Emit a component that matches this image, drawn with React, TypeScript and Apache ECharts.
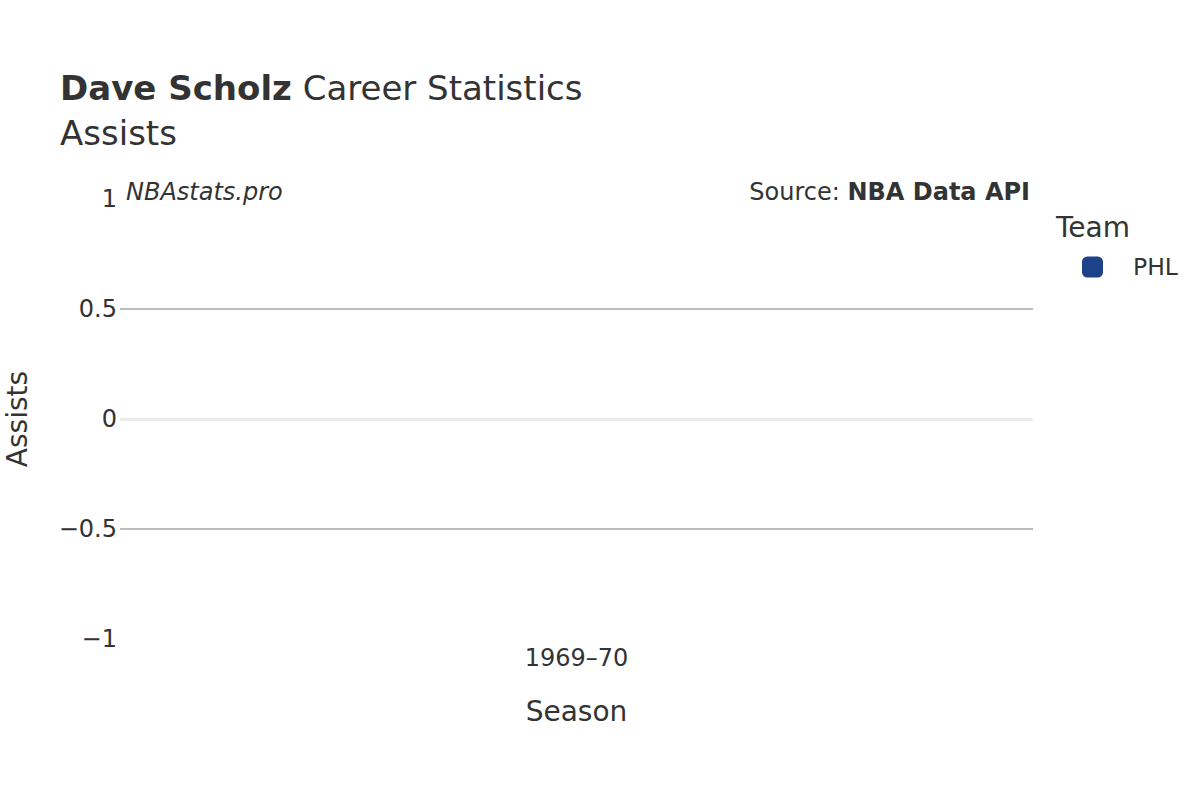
import React, { useEffect, useRef } from "react";
import * as echarts from "echarts";

const seasons = ["1969–70"];
const teams = ["PHL"];
const phlAssists = [0];
const yTicks = { min: -1, max: 1, interval: 0.5 };
const teamColors = { PHL: "#1d428a" };

const FONT = "DejaVu Sans";
const TXT = "#333333";

export default function App() {
  const ref = useRef<HTMLDivElement>(null);
  useEffect(() => {
    document.body.style.margin = "0";
    const chart = echarts.init(ref.current!, null, { renderer: "svg" });
    const option: any = {
      animation: false,
      backgroundColor: "#ffffff",
      textStyle: { fontFamily: FONT, color: TXT },
      title: {
        left: 55,
        top: 66,
        text: "{b|Dave Scholz} Career Statistics",
        textStyle: {
          fontFamily: FONT,
          fontSize: 34,
          fontWeight: "normal",
          color: TXT,
          lineHeight: 34,
          rich: {
            b: { fontFamily: FONT, fontSize: 34, fontWeight: "bold", color: TXT, lineHeight: 34 },
          },
        },
        subtext: "Assists",
        subtextStyle: { fontFamily: FONT, fontSize: 34, color: TXT, lineHeight: 34 },
        itemGap: 11,
      },
      legend: {
        data: teams,
        left: 1077,
        top: 250,
        orient: "vertical",
        icon: "roundRect",
        itemWidth: 21,
        itemHeight: 21,
        textStyle: { fontFamily: FONT, fontSize: 23.5, color: TXT, padding: [0, 0, 0, 25] },
      },
      graphic: [
        {
          type: "text",
          left: 1056,
          top: 213,
          style: { text: "Team", font: `28px '${FONT}'`, fill: TXT },
        },
        {
          type: "text",
          x: 126,
          y: 192,
          style: {
            text: "NBAstats.pro",
            font: `italic 24px '${FONT}'`,
            fill: TXT,
            verticalAlign: "middle",
            align: "left",
          },
        },
        {
          type: "text",
          x: 1030,
          y: 192,
          style: {
            text: "{n|Source: }{b|NBA Data API}",
            align: "right",
            verticalAlign: "middle",
            fill: TXT,
            rich: {
              n: { fontFamily: FONT, fontSize: 24, color: TXT },
              b: { fontFamily: FONT, fontSize: 24, fontWeight: "bold", color: TXT },
            },
          },
        },
      ],
      grid: {
        left: 120,
        right: 167,
        top: 199,
        bottom: 161,
        containLabel: false,
        outerBoundsMode: "none",
      },
      xAxis: {
        type: "category",
        data: seasons,
        axisLine: { show: false },
        axisTick: { show: false },
        axisLabel: { fontFamily: FONT, fontSize: 24, color: TXT, margin: 7 },
        name: "Season",
        nameLocation: "middle",
        nameGap: 58,
        nameTextStyle: { fontFamily: FONT, fontSize: 28, color: TXT },
      },
      yAxis: {
        type: "value",
        min: yTicks.min,
        max: yTicks.max,
        interval: yTicks.interval,
        axisLine: { show: false },
        axisTick: { show: false },
        axisLabel: {
          fontFamily: FONT,
          fontSize: 24,
          color: TXT,
          margin: 3,
          formatter: (v: number) => (v < 0 ? "\u2212" + Math.abs(v) : String(v)),
        },
        splitLine: {
          show: true,
          lineStyle: {
            width: 2,
            color: ["rgba(0,0,0,0)", "#bdbdbd", "rgba(0,0,0,0)", "#bdbdbd", "rgba(0,0,0,0)"],
          },
        },
        name: "Assists",
        nameLocation: "middle",
        nameGap: 89,
        nameTextStyle: { fontFamily: FONT, fontSize: 28, color: TXT },
      },
      series: [
        {
          name: "PHL",
          type: "bar",
          data: phlAssists,
          barWidth: "80%",
          itemStyle: { color: teamColors.PHL },
          markLine: {
            silent: true,
            symbol: "none",
            label: { show: false },
            lineStyle: { color: "#ebebeb", width: 3, type: "solid" },
            data: [{ yAxis: 0 }],
          },
        },
      ],
    };
    chart.setOption(option);
    return () => chart.dispose();
  }, []);
  return (
    <div
      ref={ref}
      style={{ position: "absolute", left: 0, top: 0, width: 1200, height: 800 }}
    />
  );
}
